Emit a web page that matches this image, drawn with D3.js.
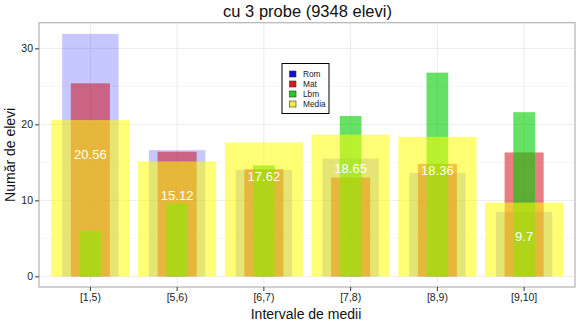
<!DOCTYPE html>
<html>
<head>
<meta charset="utf-8">
<script src="https://cdn.jsdelivr.net/npm/d3@7"></script>
<style>
html,body{margin:0;padding:0;background:#fff;}
svg{display:block;font-family:"Liberation Sans",Arial,Helvetica,sans-serif;}
</style>
</head>
<body>
<svg id="chart" width="580" height="322"></svg>
<script>
const categories = ["[1,5)", "[5,6)", "[6,7)", "[7,8)", "[8,9)", "[9,10]"];
const rom   = [31.9, 16.6, 14.0, 15.5, 13.6, 8.5];
const mat   = [25.4, 16.4, 14.1, 13.0, 14.8, 16.3];
const lbm   = [6.0, 9.6, 14.6, 21.1, 26.8, 21.6];
const media = [20.56, 15.12, 17.62, 18.65, 18.36, 9.7];
const yTicks = [0, 10, 20, 30];
const yMinor = [5, 15, 25];
const legendLabels = ["Rom", "Mat", "Lbm", "Media"];
const title = "cu 3 probe (9348 elevi)";
const xTitle = "Intervale de medii";
const yTitle = "Număr de elevi";

const series = [
  {name: "Rom", values: rom, frac: 0.65, fill: "rgba(0,0,255,0.22)", key: "#1010d0"},
  {name: "Mat", values: mat, frac: 0.45, fill: "rgba(205,0,10,0.5)", key: "#dd1a1a"},
  {name: "Lbm", values: lbm, frac: 0.25, fill: "rgba(0,205,0,0.6)", key: "#22cc22"},
  {name: "Media", values: media, frac: 0.9, fill: "rgba(255,255,0,0.54)", key: "#eeee44"}
];

const svg = d3.select("#chart");
const P = {left: 39, right: 575, top: 22.7, bottom: 287};

const x = d3.scaleBand().domain(categories).range([47, 567.5]).padding(0);
const y = d3.scaleLinear().domain([-1.4, 33.37]).range([P.bottom, P.top]);
const cx = c => x(c) + x.bandwidth() / 2;

// panel background
svg.append("rect").attr("x", P.left).attr("y", P.top)
  .attr("width", P.right - P.left).attr("height", P.bottom - P.top).attr("fill", "#fff");

// grid
const grid = svg.append("g");
grid.selectAll(".minor").data(yMinor).join("line")
  .attr("x1", P.left).attr("x2", P.right)
  .attr("y1", d => y(d)).attr("y2", d => y(d))
  .attr("stroke", "#f4f4f4").attr("stroke-width", 0.8);
grid.selectAll(".major").data(yTicks).join("line")
  .attr("x1", P.left).attr("x2", P.right)
  .attr("y1", d => y(d)).attr("y2", d => y(d))
  .attr("stroke", "#ebebeb").attr("stroke-width", 1);
grid.selectAll(".vmajor").data(categories).join("line")
  .attr("x1", d => cx(d)).attr("x2", d => cx(d))
  .attr("y1", P.top).attr("y2", P.bottom)
  .attr("stroke", "#ebebeb").attr("stroke-width", 1);

// bars
series.forEach(s => {
  svg.append("g").selectAll("rect").data(categories).join("rect")
    .attr("x", (c) => cx(c) - x.bandwidth() * s.frac / 2)
    .attr("width", x.bandwidth() * s.frac)
    .attr("y", (c, i) => y(s.values[i]))
    .attr("height", (c, i) => y(0) - y(s.values[i]))
    .attr("fill", s.fill);
});

// labels
svg.append("g").selectAll("text").data(categories).join("text")
  .attr("x", c => cx(c))
  .attr("y", (c, i) => y(media[i]) + 38.6)
  .attr("text-anchor", "middle")
  .attr("font-size", "13px")
  .attr("fill", "#fffff5")
  .text((c, i) => String(media[i]));

// panel border
svg.append("rect").attr("x", P.left).attr("y", P.top)
  .attr("width", P.right - P.left).attr("height", P.bottom - P.top)
  .attr("fill", "none").attr("stroke", "#b3b3b3").attr("stroke-width", 1.2);

// axes
const yAxis = svg.append("g").attr("transform", `translate(${P.left},0)`)
  .call(d3.axisLeft(y).tickValues(yTicks).tickSize(4).tickPadding(2));
const xAxis = svg.append("g").attr("transform", `translate(0,${P.bottom})`)
  .call(d3.axisBottom(x).tickSize(4).tickPadding(3));
[yAxis, xAxis].forEach(a => {
  a.select(".domain").remove();
  a.selectAll(".tick line").attr("stroke", "#333");
  a.selectAll(".tick text").attr("fill", "#222").attr("font-size", "10.5px")
    .attr("font-family", "Liberation Sans, Arial, sans-serif");
});

// titles
svg.append("text").attr("x", 307.5).attr("y", 16.5).attr("text-anchor", "middle")
  .attr("font-size", "16.5px").attr("fill", "#111").text(title);
svg.append("text").attr("x", 306).attr("y", 319).attr("text-anchor", "middle")
  .attr("font-size", "14px").attr("fill", "#111").text(xTitle);
svg.append("text").attr("transform", `translate(15,${(P.top + P.bottom) / 2}) rotate(-90)`)
  .attr("text-anchor", "middle").attr("font-size", "14px").attr("fill", "#111").text(yTitle);

// legend
const lg = svg.append("g").attr("transform", "translate(282,63.5)");
lg.append("rect").attr("width", 47).attr("height", 50)
  .attr("fill", "#fff").attr("stroke", "#000").attr("stroke-width", 1);
legendLabels.forEach((name, i) => {
  const s = series[i];
  lg.append("rect").attr("x", 7.5).attr("y", 7.5 + i * 10).attr("width", 6.5).attr("height", 6)
    .attr("fill", s.key).attr("stroke", "#333").attr("stroke-width", 0.6);
  lg.append("text").attr("x", 21).attr("y", 13.5 + i * 10)
    .attr("font-size", "8.3px").attr("fill", "#222").text(name);
});
</script>
</body>
</html>
